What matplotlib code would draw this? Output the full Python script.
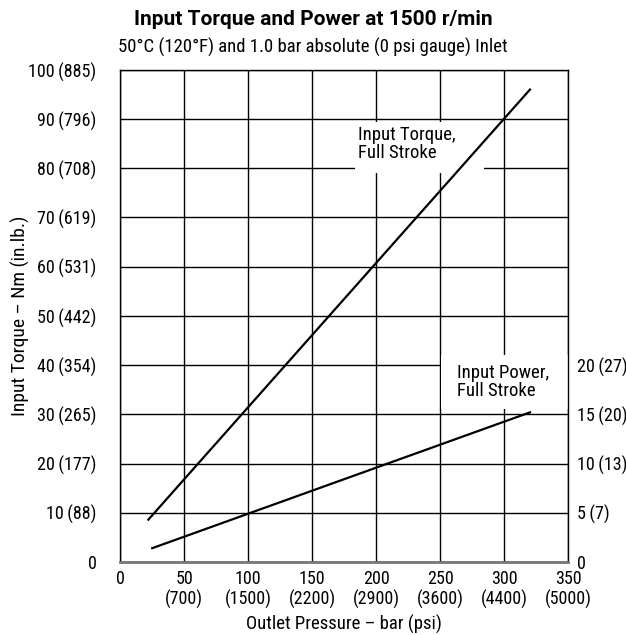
import matplotlib
matplotlib.use("Agg")
import matplotlib.pyplot as plt
from matplotlib.patches import Rectangle

plt.rcParams['font.family'] = ['Roboto Condensed', 'DejaVu Sans']

# Data
pressure_bar = [0, 50, 100, 150, 200, 250, 300, 350]
pressure_psi = ["", "(700)", "(1500)", "(2200)", "(2900)", "(3600)", "(4400)", "(5000)"]
torque_ticks = [0, 10, 20, 30, 40, 50, 60, 70, 80, 90, 100]
torque_inlb = ["", "(88)", "(177)", "(265)", "(354)", "(442)", "(531)", "(619)", "(708)", "(796)", "(885)"]
power_ticks = [0, 5, 10, 15, 20]
power_hp = ["", "(7)", "(13)", "(20)", "(27)"]

torque_x = [22, 320]
torque_y = [8.6, 96.0]
power_x = [25, 320]
power_y = [1.4, 15.2]

FS = 13.5
TFS = 13
SP = "\u2009"

fig = plt.figure(figsize=(6.26, 6.35), dpi=100)
ax = fig.add_axes([0.192, 0.115, 0.716, 0.775])
ax.set_xlim(0, 350)
ax.set_ylim(0, 100)

ax.set_xticks(pressure_bar)
ax.set_xticklabels([f"{b}\n{p}" if p else f"{b}" for b, p in zip(pressure_bar, pressure_psi)],
                   fontsize=TFS, linespacing=1.15)
for lbl in ax.get_xticklabels():
    lbl.set_verticalalignment('top')
ax.set_yticks(torque_ticks)
ax.set_yticklabels([f"{t}{SP}{s}" if s else f"{t}" for t, s in zip(torque_ticks, torque_inlb)], fontsize=TFS)
ax.tick_params(axis='x', length=0, pad=5.5)
ax.tick_params(axis='y', length=0, pad=17)

ax.grid(True, color='black', linewidth=1.0)
ax.set_axisbelow(True)
for s in ['left', 'top', 'right']:
    ax.spines[s].set_color('black')
    ax.spines[s].set_linewidth(1.0)
ax.spines['bottom'].set_color('#777777')
ax.spines['bottom'].set_linewidth(2.0)

ax2 = ax.twinx()
ax2.set_ylim(0, 50)
ax2.set_yticks(power_ticks)
ax2.set_yticklabels([f"{t}{SP}{s}" if s else f"{t}" for t, s in zip(power_ticks, power_hp)], fontsize=TFS)
ax2.tick_params(axis='y', length=0, pad=6)
for s in ax2.spines.values():
    s.set_visible(False)

# white knock-out boxes behind the labels
ax.add_patch(Rectangle((183, 79), 101, 10.5, facecolor='white', edgecolor='none', zorder=1))
ax.add_patch(Rectangle((250.6, 31), 99.4, 11, facecolor='white', edgecolor='none', zorder=1))

ax.plot(torque_x, torque_y, color='black', linewidth=1.6, zorder=5)
ax2.plot(power_x, power_y, color='black', linewidth=1.6, zorder=5)

ax.text(186, 88.6, "Input Torque,\nFull Stroke", fontsize=FS, va='top', ha='left', linespacing=1.0, zorder=4)
ax.text(263, 40.2, "Input Power,\nFull Stroke", fontsize=FS, va='top', ha='left', linespacing=1.0, zorder=4)

ax.set_xlabel("Outlet Pressure – bar (psi)", fontsize=FS, labelpad=4)
ax.set_ylabel("Input Torque – Nm (in.lb.)", fontsize=14, labelpad=-1)

fig.text(0.5, 0.9606, "Input Torque and Power at 1500 r/min", ha='center', va='baseline',
         fontsize=15, fontweight='bold', family=['Roboto', 'DejaVu Sans'])
fig.text(0.5, 0.9165, "50°C (120°F) and 1.0 bar absolute (0 psi gauge) Inlet", ha='center', va='baseline', fontsize=FS)

fig.savefig("out.png", dpi=100)
